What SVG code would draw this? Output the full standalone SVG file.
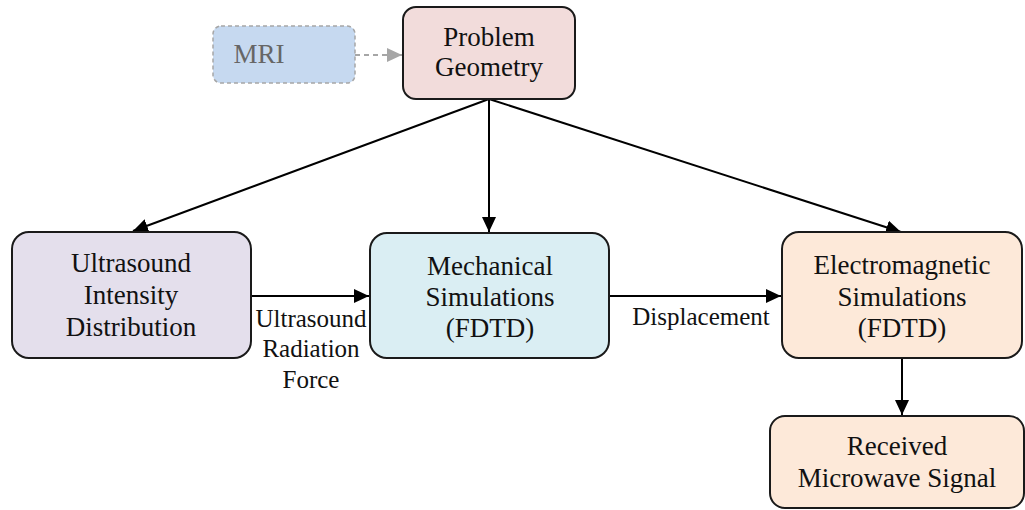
<svg xmlns="http://www.w3.org/2000/svg" width="1025" height="510" viewBox="0 0 1025 510">
<style>
.box{stroke:#1a1a1a;stroke-width:2}
.t{font-family:'Liberation Serif',serif;font-size:27px;fill:#111;text-anchor:middle}
.lbl{font-family:'Liberation Serif',serif;font-size:25px;fill:#111;text-anchor:middle}
.edge{stroke:#000;stroke-width:2;fill:none}
</style>
<defs>
<marker id="ah" markerUnits="userSpaceOnUse" markerWidth="16" markerHeight="14" refX="15" refY="7" orient="auto">
<path d="M0,0 L15,7 L0,14 z" fill="#000"/>
</marker>
<marker id="ahg" markerUnits="userSpaceOnUse" markerWidth="16" markerHeight="14" refX="15" refY="7" orient="auto">
<path d="M0,0 L15,7 L0,14 z" fill="#a6a6a6"/>
</marker>
</defs>
<rect width="1025" height="510" fill="#fff"/>
<g id="connectors">
<line x1="355" y1="55" x2="402" y2="55" stroke="#a6a6a6" stroke-width="2" stroke-dasharray="5,4" marker-end="url(#ahg)"/>
<line class="edge" x1="489" y1="99" x2="133" y2="231" marker-end="url(#ah)"/>
<line class="edge" x1="489" y1="99" x2="489" y2="232" marker-end="url(#ah)"/>
<line class="edge" x1="489" y1="99" x2="901" y2="232" marker-end="url(#ah)"/>
<line class="edge" x1="251" y1="296" x2="369" y2="296" marker-end="url(#ah)"/>
<line class="edge" x1="609" y1="296" x2="781" y2="296" marker-end="url(#ah)"/>
<line class="edge" x1="902" y1="358" x2="902" y2="415" marker-end="url(#ah)"/>
<text class="lbl" x="311" y="327">Ultrasound</text>
<text class="lbl" x="311" y="357">Radiation</text>
<text class="lbl" x="311" y="388">Force</text>
<text class="lbl" x="701" y="325">Displacement</text>
</g>
<g id="mri">
<rect x="213" y="26" width="142" height="57" rx="8" fill="#c6d9f0" stroke="#a6a6a6" stroke-width="1.5" stroke-dasharray="4,3"/>
<text class="t" x="259" y="63" style="fill:#666">MRI</text>
</g>
<g id="problem-geometry">
<rect class="box" x="403" y="7" width="172" height="92" rx="13" fill="#f2dcdb"/>
<text class="t" x="489" y="46">Problem</text>
<text class="t" x="489" y="76">Geometry</text>
</g>
<g id="ultrasound-intensity">
<rect class="box" x="12" y="232" width="239" height="126" rx="17" fill="#e4dfec"/>
<text class="t" x="131" y="272">Ultrasound</text>
<text class="t" x="131" y="304">Intensity</text>
<text class="t" x="131" y="336">Distribution</text>
</g>
<g id="mechanical">
<rect class="box" x="370" y="233" width="239" height="125" rx="17" fill="#daeef3"/>
<text class="t" x="490" y="275">Mechanical</text>
<text class="t" x="490" y="306">Simulations</text>
<text class="t" x="490" y="337">(FDTD)</text>
</g>
<g id="electromagnetic">
<rect class="box" x="782" y="232" width="240" height="126" rx="17" fill="#fde9d9"/>
<text class="t" x="902" y="274">Electromagnetic</text>
<text class="t" x="902" y="306">Simulations</text>
<text class="t" x="902" y="337">(FDTD)</text>
</g>
<g id="received">
<rect class="box" x="770" y="416" width="254" height="92" rx="15" fill="#fde9d9"/>
<text class="t" x="897" y="455">Received</text>
<text class="t" x="897" y="487">Microwave Signal</text>
</g>
</svg>
